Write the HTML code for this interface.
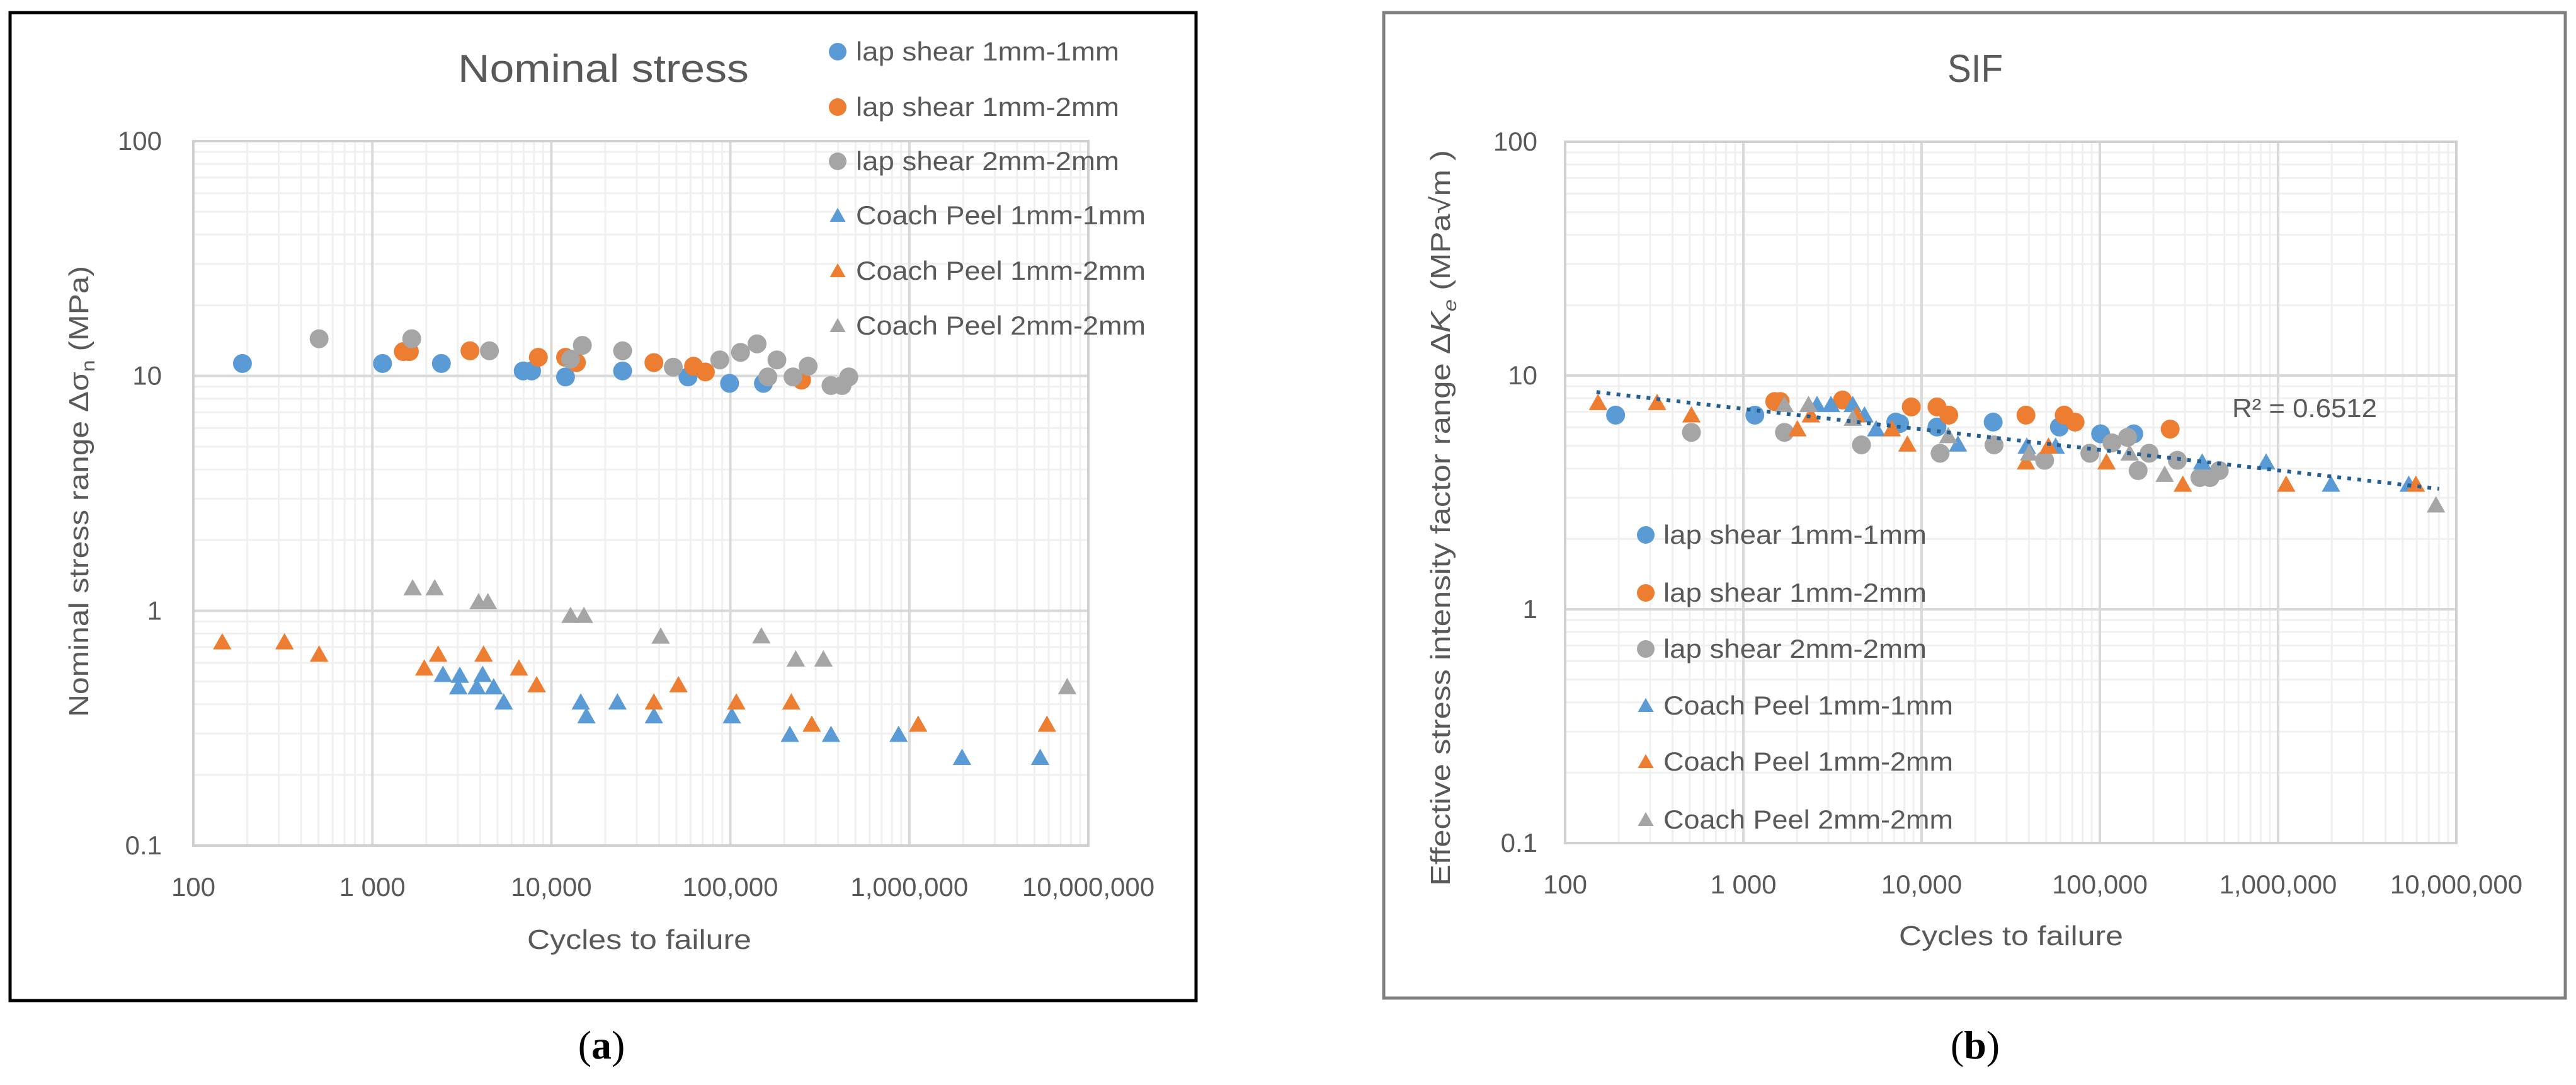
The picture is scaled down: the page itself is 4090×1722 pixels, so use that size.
<!DOCTYPE html>
<html><head><meta charset="utf-8"><style>
html,body{margin:0;padding:0;background:#fff;}
svg{display:block;}
text{font-family:"Liberation Sans",sans-serif;fill:#595959;}
</style></head><body>
<svg id="fig" width="4090" height="1722" viewBox="0 0 4090 1722" xmlns="http://www.w3.org/2000/svg">
  <g id="chartA">
    <rect x="16" y="20" width="1883" height="1568" fill="#fff" stroke="#000" stroke-width="5"/>
    <g id="gridA"></g>
    <g id="marksA"></g>
    <text x="958" y="130" font-size="62" text-anchor="middle" textLength="462" lengthAdjust="spacingAndGlyphs">Nominal stress</text>
    <text x="1015" y="1506" font-size="44" text-anchor="middle" textLength="356" lengthAdjust="spacingAndGlyphs">Cycles to failure</text>
    <text transform="translate(140,780) rotate(-90)" font-size="44" text-anchor="middle" textLength="716" lengthAdjust="spacingAndGlyphs">Nominal stress range Δσ<tspan font-size="30" dy="10">n</tspan><tspan dy="-10"> (MPa)</tspan></text>
    <g id="legendA"></g>
  </g>
  <g id="chartB">
    <rect x="2197" y="20" width="1876" height="1564" fill="#fff" stroke="#808080" stroke-width="5"/>
    <g id="gridB"></g>
    <g id="marksB"></g>
    <text x="3136" y="130" font-size="62" text-anchor="middle" textLength="88" lengthAdjust="spacingAndGlyphs">SIF</text>
    <text x="3193" y="1500" font-size="44" text-anchor="middle" textLength="356" lengthAdjust="spacingAndGlyphs">Cycles to failure</text>
    <text transform="translate(2302,822) rotate(-90)" font-size="44" text-anchor="middle" textLength="1168" lengthAdjust="spacingAndGlyphs">Effective stress intensity factor range Δ<tspan font-style="italic">K</tspan><tspan font-size="30" font-style="italic" dy="10">e</tspan><tspan dy="-10"> (MPa√m )</tspan></text>
    <text id="r2" x="3544" y="662" font-size="42" textLength="230" lengthAdjust="spacingAndGlyphs">R² = 0.6512</text>
    <g id="legendB"></g>
  </g>
  <text x="955" y="1680" font-size="64" text-anchor="middle" style="font-family:'Liberation Serif',serif;fill:#000">(<tspan font-weight="bold">a</tspan>)</text>
  <text x="3136" y="1680" font-size="64" text-anchor="middle" style="font-family:'Liberation Serif',serif;fill:#000">(<tspan font-weight="bold">b</tspan>)</text>
</svg>
<script>
// ---- shared axis labels ----
const xTickValues = [100, 1000, 10000, 100000, 1000000, 10000000];
const xTickLabels = ["100", "1 000", "10,000", "100,000", "1,000,000", "10,000,000"];
const yTickValues = [100, 10, 1, 0.1];
const yTickLabels = ["100", "10", "1", "0.1"];
const seriesNames = ["lap shear 1mm-1mm", "lap shear 1mm-2mm", "lap shear 2mm-2mm", "Coach Peel 1mm-1mm", "Coach Peel 1mm-2mm", "Coach Peel 2mm-2mm"];
const seriesColors = ["#5b9bd5", "#ed7d31", "#a5a5a5", "#5b9bd5", "#ed7d31", "#a5a5a5"];
const seriesShapes = ["circle", "circle", "circle", "triangle", "triangle", "triangle"];

// ---- chart (a) nominal stress: [cycles, MPa] ----
const aLap11 = [[188,11.3],[1140,11.3],[2430,11.3],[6960,10.5],[7760,10.5],[12000,9.9],[25000,10.5],[58000,9.9],[99000,9.3],[153000,9.3]];
const aLap12 = [[1490,12.7],[1610,12.7],[3510,12.8],[8460,12.0],[12000,12.0],[13800,11.4],[37400,11.4],[62300,11.0],[72500,10.4],[250000,9.6]];
const aLap22 = [[504,14.4],[1660,14.4],[4510,12.8],[12800,11.8],[14900,13.5],[25000,12.8],[48000,10.9],[87300,11.7],[114000,12.6],[141000,13.7],[182000,11.7],[162000,9.9],[224000,9.9],[272000,11.0],[365000,9.1],[421000,9.1],[459000,9.9]];
const aCp11 = [[2480,0.535],[3080,0.53],[3020,0.473],[3830,0.473],[4130,0.535],[4760,0.473],[5420,0.408],[14600,0.408],[15700,0.356],[23400,0.408],[37400,0.356],[102000,0.356],[215000,0.297],[365000,0.297],[871000,0.297],[1970000,0.237],[5380000,0.237]];
const aCp12 = [[145,0.736],[323,0.736],[504,0.652],[1950,0.569],[2330,0.652],[4180,0.652],[6590,0.569],[8280,0.483],[37400,0.408],[51300,0.483],[108000,0.408],[219000,0.408],[285000,0.328],[1120000,0.328],[5870000,0.328]];
const aCp22 = [[1680,1.25],[2230,1.25],[3920,1.09],[4420,1.09],[12800,0.953],[15200,0.953],[40800,0.778],[149000,0.78],[232000,0.622],[331000,0.622],[7620000,0.474]];

// ---- chart (b) SIF: [cycles, MPa√m] ----
const bLap11 = [[192,6.77],[1160,6.77],[7160,6.32],[7530,6.23],[12200,6.02],[25200,6.32],[59300,6.02],[101000,5.63],[155000,5.63]];
const bLap12 = [[1500,7.74],[1610,7.74],[3600,7.86],[8750,7.34],[12200,7.34],[14200,6.77],[38500,6.77],[63100,6.77],[72600,6.32],[248000,5.9]];
const bLap22 = [[511,5.71],[1700,5.71],[4600,5.05],[12700,4.65],[25500,5.05],[49000,4.34],[87900,4.65],[117000,5.15],[143000,5.44],[164000,3.92],[189000,4.65],[272000,4.34],[364000,3.66],[415000,3.66],[468000,3.92]];
const bCp11 = [[2590,7.5],[3100,7.5],[4110,7.5],[4780,6.77],[5560,5.9],[16000,5.08],[38900,4.98],[56500,4.98],[375000,4.26],[857000,4.26],[1980000,3.42],[5410000,3.42]];
const bCp12 = [[153,7.65],[328,7.65],[511,6.77],[2010,5.9],[2390,6.77],[4320,6.77],[6810,5.9],[8320,5.08],[38500,4.26],[51500,4.98],[109000,4.26],[292000,3.42],[1110000,3.42],[5930000,3.42]];
const bCp22 = [[1700,7.5],[2320,7.5],[4110,6.55],[14100,5.52],[40100,4.65],[147000,4.65],[231000,3.77],[7690000,2.79]];
const trendRange = [150, 8000000];

const NS = "http://www.w3.org/2000/svg";
function mk(tag, attrs, parent) {
  const e = document.createElementNS(NS, tag);
  for (const k in attrs) e.setAttribute(k, attrs[k]);
  parent.appendChild(e);
  return e;
}
const L = Math.log10;
const axA = {x0: 307, x1: 1728, y0: 224, y1: 1342};
const axB = {x0: 2485, x1: 3900, y0: 225, y1: 1338};
function sx(ax, v) { return ax.x0 + (L(v) - 2) / 5 * (ax.x1 - ax.x0); }
function sy(ax, v) { return ax.y0 + (2 - L(v)) / 3 * (ax.y1 - ax.y0); }

function drawGrid(ax, g, yLabelRight, pre) {
  for (let d = 2; d < 7; d++) for (let m = 2; m <= 9; m++) {
    const x = sx(ax, m * Math.pow(10, d));
    const ln = mk("line", {x1: x, x2: x, y1: ax.y0, y2: ax.y1, stroke: "#f0f0f0", "stroke-width": 3}, g);
    
    
  }
  for (let d = -1; d < 2; d++) for (let m = 2; m <= 9; m++) {
    const y = sy(ax, m * Math.pow(10, d));
    const ln = mk("line", {x1: ax.x0, x2: ax.x1, y1: y, y2: y, stroke: "#f0f0f0", "stroke-width": 3}, g);
    
    
  }
  xTickValues.forEach((v, i) => {
    const x = sx(ax, v);
    const ln = mk("line", {x1: x, x2: x, y1: ax.y0, y2: ax.y1, stroke: "#d9d9d9", "stroke-width": 4}, g);
    
    
    const t = mk("text", {x: x, y: ax.y1 + 80, "font-size": 42, "text-anchor": "middle"}, g);
    t.textContent = xTickLabels[i];
    
    
  });
  yTickValues.forEach((v, i) => {
    const y = sy(ax, v);
    const ln = mk("line", {x1: ax.x0, x2: ax.x1, y1: y, y2: y, stroke: "#d9d9d9", "stroke-width": 4}, g);
    
    
    const t = mk("text", {x: yLabelRight, y: y + 14, "font-size": 42, "text-anchor": "end"}, g);
    t.textContent = yTickLabels[i];
    
    
  });
  const b = mk("rect", {x: ax.x0, y: ax.y0, width: ax.x1 - ax.x0, height: ax.y1 - ax.y0, fill: "none", stroke: "#d0d0d0", "stroke-width": 4}, g);
  
  
}

function marker(shape, color, x, y, g, r) {
  let e;
  if (shape === "circle") {
    e = mk("circle", {cx: x, cy: y, r: r, fill: color}, g);
  } else {
    const h = r * 1.85, w = r * 2.1;
    e = mk("polygon", {points: `${x},${y - h * 0.55} ${x - w / 2},${y + h * 0.45} ${x + w / 2},${y + h * 0.45}`, fill: color}, g);
  }
  return e;
}

function drawSeries(ax, g, seriesList) {
  seriesList.forEach((pts, si) => {
    const sg = mk("g", {}, g);
    
    
    pts.forEach(p => {
      const e = marker(seriesShapes[si], seriesColors[si], sx(ax, p[0]), sy(ax, p[1]), sg, seriesShapes[si] === "circle" ? 15 : 14);
      
      
    });
  });
}

function drawLegend(g, mx, tx, ys) {
  seriesNames.forEach((n, i) => {
    const eg = mk("g", {}, g);
    
    
    const m = marker(seriesShapes[i], seriesColors[i], mx, ys[i], eg, seriesShapes[i] === "circle" ? 14 : 12);
    
    
    const t = mk("text", {x: tx, y: ys[i] + 14, "font-size": 42, textLength: i < 3 ? 418 : 460, lengthAdjust: "spacingAndGlyphs"}, eg);
    t.textContent = n;
    
    
  });
}

drawGrid(axA, document.getElementById("gridA"), 257, "chart-a");
drawGrid(axB, document.getElementById("gridB"), 2441, "chart-b");
const seriesA = [aLap11, aLap12, aLap22, aCp11, aCp12, aCp22];
const seriesB = [bLap11, bLap12, bLap22, bCp11, bCp12, bCp22];
drawSeries(axA, document.getElementById("marksA"), seriesA);
drawSeries(axB, document.getElementById("marksB"), seriesB);

// power-law trendline fit on all SIF points
(function () {
  let n = 0, sxv = 0, syv = 0, sxx = 0, sxy = 0;
  seriesB.forEach(s => s.forEach(p => {
    const lx = Math.log(p[0]), ly = Math.log(p[1]);
    n++; sxv += lx; syv += ly; sxx += lx * lx; sxy += lx * ly;
  }));
  const b = (n * sxy - sxv * syv) / (n * sxx - sxv * sxv);
  const a = (syv - b * sxv) / n;
  const f = x => Math.exp(a + b * Math.log(x));
  const x0 = trendRange[0], x1 = trendRange[1];
  const line = mk("line", {x1: sx(axB, x0), y1: sy(axB, f(x0)), x2: sx(axB, x1), y2: sy(axB, f(x1)),
    stroke: "#255e91", "stroke-width": 6, "stroke-dasharray": "6 10"}, document.getElementById("marksB"));
  
  
})();

drawLegend(document.getElementById("legendA"), 1330, 1359, [82, 170, 256, 342, 430, 517]);
drawLegend(document.getElementById("legendB"), 2613, 2641, [849, 941, 1030, 1120, 1209, 1301]);
</script>
</body></html>
